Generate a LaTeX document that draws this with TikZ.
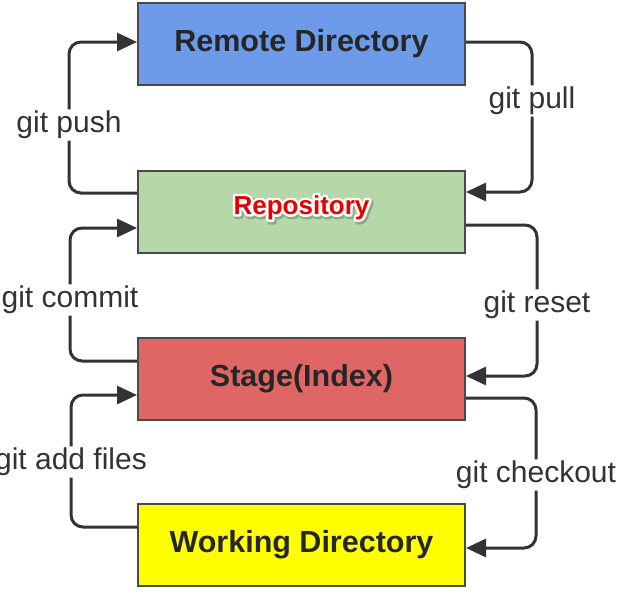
\documentclass[tikz,border=0pt]{standalone}
\usepackage{fontspec}
\setmainfont{Liberation Sans}
\usetikzlibrary{arrows.meta,calc}
\definecolor{remoteblue}{HTML}{6D9BEA}
\definecolor{repogreen}{HTML}{B4D8A7}
\definecolor{stagered}{HTML}{E06666}
\definecolor{workyellow}{HTML}{FFFF00}
\definecolor{boxedge}{HTML}{4A4A4A}
\definecolor{linecol}{HTML}{333333}
\definecolor{redtext}{HTML}{E60000}
\definecolor{shadowcol}{HTML}{8FA888}
\newcommand{\halotext}[1]{%
  \rlap{\kern1.5pt\raisebox{-2pt}{\color{shadowcol}\special{pdf:literal direct 1 j 6 w 2 Tr}#1\special{pdf:literal direct 0 Tr}}}%
  \rlap{\color{white}\special{pdf:literal direct 1 j 5 w 1 Tr}#1\special{pdf:literal direct 0 Tr}}%
  \textcolor{redtext}{#1}}
\begin{document}
\begin{tikzpicture}[x=1pt,y=-1pt,
  box/.style={draw=boxedge, line width=2pt, minimum width=327pt, minimum height=82pt,
    font=\fontsize{30.5}{32}\selectfont\bfseries, text=black!85},
  lbl/.style={fill=white, inner sep=1.5pt, font=\fontsize{30}{32}\selectfont, text=black!80},
  conn/.style={draw=linecol, line width=3pt, rounded corners=12pt,
    -{Triangle[length=20pt,width=18pt]}}]
\fill[white] (0,0) rectangle (625,597);
\useasboundingbox (0,0) rectangle (625,597);
% boxes
\node[box, fill=remoteblue] (remote) at (301.5,44) {Remote Directory};
\node[box, fill=repogreen] (repo) at (301.5,211.5) {};
\node[box, fill=stagered] (stage) at (301.5,378.5) {Stage(Index)};
\node[box, fill=workyellow] (work) at (301.5,545) {Working Directory};
% Repository label with white halo and soft shadow
\node[font=\fontsize{26}{28}\selectfont\bfseries] (repotext) at ($(repo)+(0,-3)$) {\halotext{Repository}};
% labels
\node[lbl] (push) at (69,125) {git push};
\node[lbl] (pull) at (532,101) {git pull};
\node[lbl] (commit) at (70,300) {git commit};
\node[lbl] (reset) at (537,305) {git reset};
\node[lbl] (add) at (71,462) {git add files};
\node[lbl] (checkout) at (536,475) {git checkout};
% anchor points
\coordinate (repoL1) at ($(repo.west)+(0,-18.5)$);
\coordinate (remoteL) at ($(remote.west)+(0,-2)$);
\coordinate (remoteR) at ($(remote.east)+(0,-2)$);
\coordinate (repoR1) at ($(repo.east)+(0,-19.5)$);
\coordinate (stageL1) at ($(stage.west)+(0,-17.5)$);
\coordinate (repoL2) at ($(repo.west)+(0,16.5)$);
\coordinate (repoR2) at ($(repo.east)+(0,13.5)$);
\coordinate (stageR1) at ($(stage.east)+(0,-2.5)$);
\coordinate (workL) at ($(work.west)+(0,-18)$);
\coordinate (stageL2) at ($(stage.west)+(0,16.5)$);
\coordinate (stageR2) at ($(stage.east)+(0,19.5)$);
\coordinate (workR) at ($(work.east)+(0,3)$);
% connectors
\draw[conn] (repoL1) -- (push |- repoL1) -- (push) -- (push |- remoteL) -- (remoteL);
\draw[conn] (remoteR) -- (pull |- remoteR) -- (pull) -- (pull |- repoR1) -- (repoR1);
\draw[conn] (stageL1) -- (commit |- stageL1) -- (commit) -- (commit |- repoL2) -- (repoL2);
\draw[conn] (repoR2) -- (reset |- repoR2) -- (reset) -- (reset |- stageR1) -- (stageR1);
\draw[conn] (workL) -- (add |- workL) -- (add) -- (add |- stageL2) -- (stageL2);
\draw[conn] (stageR2) -- (checkout |- stageR2) -- (checkout) -- (checkout |- workR) -- (workR);
\end{tikzpicture}
\end{document}
